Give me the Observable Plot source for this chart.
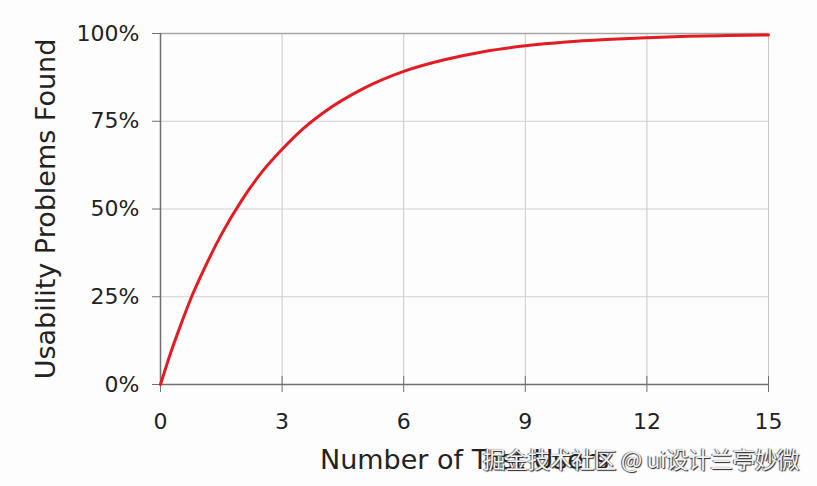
<!DOCTYPE html>
<html>
<head>
<meta charset="utf-8">
<script src="https://cdn.jsdelivr.net/npm/d3@7"></script>
<script src="https://cdn.jsdelivr.net/npm/@observablehq/plot@0.6"></script>
<style>
  html, body { margin: 0; padding: 0; background: #fdfdfd; }
  #wrap { position: relative; width: 817px; height: 486px; }
  #wm { position: absolute; left: 483px; top: 442px; font-family: "Noto Sans CJK SC", sans-serif; font-size: 22.5px; color: #f2f2f2; text-shadow: 1px 1px 1px #222, -1px 0 1px #555; white-space: nowrap; letter-spacing: -0.3px; }
</style>
</head>
<body>
<div id="wrap"><div id="wm">掘金技术社区 @ ui设计兰亭妙微</div></div>
<script>
// Values
const users = [0, 0.25, 0.5, 0.75, 1, 1.5, 2, 2.5, 3, 3.5, 4, 5, 6, 7, 8, 9, 10, 11, 12, 13, 14, 15];
const found = [0, 0.09, 0.17, 0.245, 0.31, 0.427, 0.524, 0.605, 0.67, 0.727, 0.773, 0.843, 0.892, 0.925, 0.949, 0.965, 0.976, 0.983, 0.988, 0.992, 0.994, 0.996];
const xTicks = [0, 3, 6, 9, 12, 15];
const yTicks = [0, 0.25, 0.5, 0.75, 1];
const yTickLabels = ["0%", "25%", "50%", "75%", "100%"];
const xTitle = "Number of Test Users";
const yTitle = "Usability Problems Found";

const data = users.map((u, i) => ({u, f: found[i]}));

const chart = Plot.plot({
  width: 817,
  height: 486,
  marginLeft: 160,
  marginRight: 49,
  marginTop: 33,
  marginBottom: 102,
  style: {background: "transparent", fontFamily: "'DejaVu Sans', Verdana, sans-serif", fontSize: "22px", color: "#222"},
  x: {domain: [0, 15]},
  y: {domain: [0, 1]},
  marks: [
    Plot.gridX(xTicks.filter(d => d > 0), {stroke: "#c8c8c8", strokeOpacity: 1}),
    Plot.gridY(yTicks.filter(d => d > 0 && d < 1), {stroke: "#d0d0d0", strokeOpacity: 1}),
    Plot.ruleY([1], {stroke: "#a8a8a8", strokeWidth: 1.5}),
    Plot.ruleX([0], {stroke: "#707070", strokeWidth: 1.5}),
    Plot.ruleY([0], {stroke: "#707070", strokeWidth: 1.5}),
    Plot.axisY({ticks: yTicks, tickFormat: (d, i) => yTickLabels[i], tickSize: 8, tickPadding: 13, stroke: "#707070", fill: "#222", label: null, fontSize: 22}),
    Plot.axisY({ticks: [], label: yTitle, labelAnchor: "center", labelOffset: 125, labelArrow: "none", fontSize: 27, fill: "#222"}),
    Plot.axisX({ticks: xTicks, tickSize: 8, dy: -8, tickFormat: () => "", label: null, stroke: "#707070"}),
    Plot.axisX({ticks: xTicks, tickSize: 8, tickPadding: 21, stroke: "#707070", fill: "#222", label: null, fontSize: 22}),
    Plot.axisX({ticks: [], label: xTitle, labelAnchor: "center", labelOffset: 84, labelArrow: "none", fontSize: 27, fill: "#222"}),
    Plot.line(data, {x: "u", y: "f", stroke: "#e31b23", strokeWidth: 3, curve: "monotone-x"})
  ]
});
document.getElementById("wrap").prepend(chart);
</script>
</body>
</html>
